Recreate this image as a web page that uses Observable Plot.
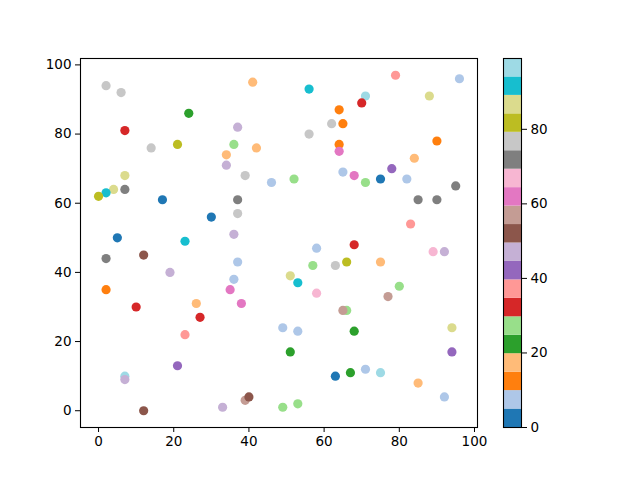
<!DOCTYPE html>
<html>
<head>
<meta charset="utf-8">
<script src="https://cdn.jsdelivr.net/npm/d3@7"></script>
<script src="https://cdn.jsdelivr.net/npm/@observablehq/plot@0.6"></script>
<style>
  body { margin: 0; background: #fff; }
  #chart { position: relative; width: 640px; height: 480px; }
  #chart svg { position: absolute; top: 0; }
</style>
</head>
<body>
<div id="chart"></div>
<script>
// scatter values
const xs = [2, 6, 24, 7, 14, 21, 7, 4, 7, 2, 0, 17, 30, 5, 23,
  41, 56, 71, 70, 64, 37, 62, 65, 56, 36, 42, 64, 64, 34, 34, 39, 46, 52, 65, 68, 37, 37, 36,
  79, 96, 88, 90, 84, 78, 71, 75, 82, 95, 85, 90, 83,
  2, 12, 19, 2, 10, 26, 27, 23, 21, 7, 7, 12, 33,
  58, 68, 37, 57, 63, 66, 51, 53, 36, 35, 58, 38, 66, 65, 49, 53, 68, 51, 63, 67, 39, 40, 49, 53,
  89, 92, 75, 80, 77, 94, 94, 71, 75, 85, 92];
const ys = [94, 92, 86, 81, 76, 77, 68, 64, 64, 63, 62, 61, 56, 50, 49,
  95, 93, 91, 89, 87, 82, 83, 83, 80, 77, 76, 77, 75, 74, 71, 68, 66, 67, 69, 68, 61, 57, 51,
  97, 96, 91, 78, 73, 70, 66, 67, 67, 65, 61, 61, 54,
  44, 45, 40, 35, 30, 31, 27, 22, 13, 10, 9, 0, 1,
  47, 48, 43, 42, 42, 43, 39, 37, 38, 35, 34, 31, 29, 29, 24, 23, 23, 17, 10, 11, 3, 4, 1, 2,
  46, 46, 43, 36, 33, 24, 17, 12, 11, 8, 4];
const cs = [77, 77, 22, 32, 77, 82, 87, 87, 72, 92, 82, 0, 2, 2, 92,
  17, 92, 99, 32, 12, 47, 77, 12, 77, 27, 17, 12, 62, 17, 47, 77, 7, 27, 7, 62, 72, 77, 47,
  37, 7, 87, 12, 17, 42, 27, 2, 7, 72, 72, 72, 37,
  72, 52, 47, 12, 32, 17, 32, 37, 42, 97, 47, 52, 47,
  7, 32, 7, 27, 77, 82, 87, 92, 7, 62, 67, 62, 27, 57, 7, 7, 22, 22, 2, 22, 57, 52, 27, 27,
  67, 47, 17, 27, 57, 87, 42, 7, 97, 17, 7];

const tab20 = ["#1f77b4", "#aec7e8", "#ff7f0e", "#ffbb78", "#2ca02c", "#98df8a", "#d62728", "#ff9896",
  "#9467bd", "#c5b0d5", "#8c564b", "#c49c94", "#e377c2", "#f7b6d2", "#7f7f7f", "#c7c7c7",
  "#bcbd22", "#dbdb8d", "#17becf", "#9edae5"];
const barTicks = [0, 20, 40, 60, 80];

const cMin = d3.min(cs), cMax = d3.max(cs);
const edges = d3.range(21).map(i => cMin + i * (cMax - cMin) / 20);
const points = xs.map((x, i) => ({x, y: ys[i], c: cs[i]}));
const bins = d3.range(20).map(i => ({lo: edges[i], hi: edges[i + 1], col: tab20[i]}));

const font = "13.5px 'DejaVu Sans', sans-serif";

const main = Plot.plot({
  width: 490,
  height: 480,
  marginLeft: 80,
  marginRight: 13,
  marginTop: 58,
  marginBottom: 53,
  style: {font: font, color: "black", background: "white"},
  x: {domain: [-4.8, 100.8], ticks: [0, 20, 40, 60, 80, 100], tickSize: 5, tickPadding: 4, label: null},
  y: {domain: [-4.85, 101.85], ticks: [0, 20, 40, 60, 80, 100], tickSize: 5, tickPadding: 4, label: null},
  color: {type: "threshold", domain: edges.slice(1, 20), range: tab20},
  marks: [
    Plot.dot(points, {x: "x", y: "y", fill: "c", r: 4.6}),
    Plot.frame({stroke: "black", strokeWidth: 1.1})
  ]
});

const bar = Plot.plot({
  width: 140,
  height: 480,
  marginLeft: 13,
  marginRight: 109,
  marginTop: 58,
  marginBottom: 53,
  style: {font: font, color: "black", background: "transparent"},
  x: {domain: [0, 1], axis: null},
  y: {domain: [cMin, cMax], ticks: barTicks, tickSize: 5, tickPadding: 4, label: null, axis: "right"},
  color: {type: "identity"},
  marks: [
    Plot.rect(bins, {x1: d => 0, x2: d => 1, y1: "lo", y2: "hi", fill: "col"}),
    Plot.frame({stroke: "black", strokeWidth: 1.1})
  ]
});

d3.select(main).style("left", "0px");
d3.select(bar).style("left", "490px");
d3.select("#chart").append(() => main);
d3.select("#chart").append(() => bar);
</script>
</body>
</html>
